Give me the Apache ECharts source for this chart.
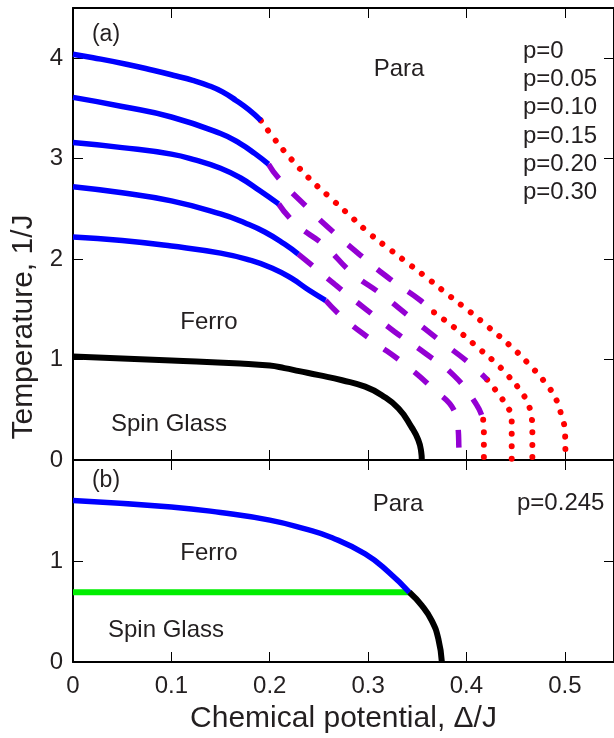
<!DOCTYPE html>
<html>
<head>
<meta charset="utf-8">
<script src="https://cdn.jsdelivr.net/npm/echarts@6/dist/echarts.min.js"></script>
<style>
html, body { margin: 0; padding: 0; background: #fff; }
#chart { width: 614px; height: 738px; }
</style>
</head>
<body>
<div id="chart"></div>
<script>
// panel (a): [Δ/J, T] for each p, split by line style
const p000Solid = [[0, 4.04], [0.0205, 4.005], [0.0543, 3.94], [0.0813, 3.88], [0.105, 3.823], [0.1218, 3.78], [0.1387, 3.724],
  [0.152, 3.665], [0.1657, 3.58], [0.179, 3.485], [0.191, 3.38]]
const p000Dotted = [[0.191, 3.38], [0.2045, 3.20], [0.2224, 2.99], [0.2426, 2.78], [0.2628, 2.60], [0.283, 2.42], [0.3033, 2.24],
  [0.323, 2.09], [0.343, 1.94], [0.363, 1.79], [0.3826, 1.635], [0.403, 1.48], [0.4228, 1.32], [0.443, 1.15], [0.4629, 0.96],
  [0.4828, 0.735], [0.492, 0.586], [0.4966, 0.44], [0.50, 0.30], [0.5005, 0.15], [0.5007, 0]]

const p005Solid = [[0, 3.61], [0.05, 3.52], [0.1, 3.415], [0.15, 3.25], [0.17, 3.15], [0.185, 3.05], [0.1987, 2.946]]
const p005Dashed = [[0.1987, 2.946], [0.2095, 2.80], [0.2365, 2.53], [0.2635, 2.28], [0.292, 2.04], [0.3225, 1.80], [0.353, 1.59], [0.367, 1.47]]
const p005Dotted = [[0.367, 1.47], [0.3826, 1.357], [0.3975, 1.24], [0.412, 1.115], [0.427, 0.99], [0.4423, 0.84], [0.457, 0.66],
  [0.463, 0.55], [0.4663, 0.43], [0.467, 0.30], [0.467, 0]]

const p010Solid = [[0, 3.16], [0.05, 3.11], [0.1, 3.045], [0.125, 2.985], [0.15, 2.905], [0.17, 2.81], [0.19, 2.68], [0.209, 2.55]]
const p010Dashed = [[0.209, 2.55], [0.2264, 2.35], [0.255, 2.14], [0.284, 1.86], [0.3135, 1.65], [0.343, 1.42], [0.3715, 1.20], [0.4035, 0.96], [0.421, 0.80]]
const p010Dotted = [[0.421, 0.80], [0.428, 0.715], [0.435, 0.626], [0.4423, 0.52], [0.446, 0.43], [0.446, 0]]

const p015Solid = [[0, 2.72], [0.05, 2.66], [0.1, 2.58], [0.15, 2.45], [0.175, 2.36], [0.195, 2.27], [0.215, 2.15], [0.229, 2.05]]
const p015Dashed = [[0.229, 2.05], [0.2415, 1.95], [0.2659, 1.75], [0.2979, 1.50], [0.3266, 1.28], [0.357, 1.07], [0.3874, 0.84], [0.4103, 0.55], [0.417, 0.40]]
const p015Dotted = [[0.417, 0.40], [0.4177, 0.30], [0.4177, 0]]

const p020Solid = [[0, 2.22], [0.05, 2.185], [0.1, 2.13], [0.15, 2.06], [0.18, 1.99], [0.2027, 1.91], [0.222, 1.81], [0.24, 1.69], [0.2567, 1.59]]
const p020Dashed = [[0.2567, 1.59], [0.2753, 1.41], [0.3057, 1.18], [0.335, 0.97], [0.3637, 0.73], [0.389, 0.46], [0.3915, 0.32], [0.3924, 0.10], [0.393, 0]]

const p030Solid = [[0, 1.03], [0.1, 0.99], [0.17, 0.96], [0.2, 0.94], [0.215, 0.915], [0.23, 0.885], [0.25, 0.845], [0.2736, 0.794],
  [0.297, 0.73], [0.314, 0.645], [0.331, 0.513], [0.344, 0.33], [0.351, 0.2], [0.354, 0.08], [0.3546, 0]]

// panel (b): p = 0.245
const bFerroPara = [[0, 1.60], [0.1, 1.535], [0.15, 1.48], [0.2, 1.405], [0.235, 1.32], [0.2635, 1.23], [0.297, 1.07], [0.3209, 0.89], [0.342, 0.69]]
const bGlassPara = [[0.342, 0.69], [0.3545, 0.56], [0.3647, 0.41], [0.3714, 0.23], [0.375, 0]]
const bGlassFerro = [[0, 0.69], [0.342, 0.69]]

const xTicks = [0, 0.1, 0.2, 0.3, 0.4, 0.5]
const tTicksA = [0, 1, 2, 3, 4]
const tTicksB = [0, 1]
const pLabels = ['p=0', 'p=0.05', 'p=0.10', 'p=0.15', 'p=0.20', 'p=0.30']

const textColor = '#231f20'
const fontFamily = '"Liberation Sans", Arial, Helvetica, sans-serif'
const BLUE = '#0000ff', RED = '#ff0000', PURPLE = '#9400d3', BLACK = '#000000', GREEN = '#00ee00'
const DOTS = [0.01, 12.4]
const DASHES = [18, 20]

function near(list, v) {
  return list.some(t => Math.abs(t - v) < 1e-6)
}

function xAx(grid, pos, showLabel) {
  return {
    type: 'value', gridIndex: grid, position: pos, min: 0, max: 0.55, interval: 0.1,
    axisLine: { onZero: false, lineStyle: { color: '#000', width: 2 } },
    axisTick: { inside: true, length: 10, lineStyle: { color: '#000', width: 1 } },
    axisLabel: {
      show: showLabel, margin: 12, color: textColor, fontSize: 24, fontFamily: fontFamily, showMaxLabel: false,
      formatter: v => near(xTicks, v) ? String(Math.round(v * 10) / 10) : ''
    },
    splitLine: { show: false }
  }
}

function yAx(grid, pos, max, ticks, showLabel) {
  return {
    type: 'value', gridIndex: grid, position: pos, min: 0, max: max, interval: 1,
    axisLine: { onZero: false, lineStyle: { color: '#000', width: 2 } },
    axisTick: { inside: true, length: 10, lineStyle: { color: '#000', width: 1 } },
    axisLabel: {
      show: showLabel, margin: 10, color: textColor, fontSize: 24, fontFamily: fontFamily, showMaxLabel: false,
      formatter: v => near(ticks, v) ? String(v) : ''
    },
    splitLine: { show: false }
  }
}

function curve(data, color, width, dash, panel, cap) {
  return {
    type: 'line', data: data, xAxisIndex: panel * 2, yAxisIndex: panel * 2,
    showSymbol: false, symbol: 'none', smooth: 0.5, silent: true,
    lineStyle: { color: color, width: width, type: dash || 'solid', cap: cap || 'butt' }
  }
}

function label(text, x, y, size, align, rotation) {
  return {
    type: 'text', x: x, y: y, rotation: rotation || 0, silent: true,
    style: {
      text: text, fill: textColor, font: size + 'px ' + fontFamily,
      textAlign: align || 'center', textVerticalAlign: 'middle',
      align: align || 'center', verticalAlign: 'middle'
    }
  }
}

const xName = 'Chemical potential, Δ/J'
const yName = 'Temperature, 1/J'

const chart = echarts.init(document.getElementById('chart'))

const xAxes = [xAx(0, 'bottom', false), xAx(0, 'top', false), xAx(1, 'bottom', true), xAx(1, 'top', false)]
xAxes[2].name = xName
xAxes[2].nameLocation = 'middle'
xAxes[2].nameGap = 42
xAxes[2].nameTextStyle = { fontSize: 30, color: textColor, fontFamily: fontFamily }

const graphics = [
  label('(a)', 106, 35, 23),
  label('Para', 399, 69, 24),
  label('Ferro', 209, 322, 24),
  label('Spin Glass', 169, 424, 24),
  label('(b)', 106, 481, 23),
  label('Para', 398, 504, 24),
  label('p=0.245', 517, 503, 24, 'left'),
  label('Ferro', 209, 553, 24),
  label('Spin Glass', 166, 630, 24),
  label(yName, 24, 327, 30, 'center', Math.PI / 2)
]
pLabels.forEach((t, i) => graphics.push(label(t, 523, 51 + i * 28.3, 24, 'left')))

chart.setOption({
  animation: false,
  backgroundColor: '#fff',
  grid: [
    { left: 73, top: 8, width: 543, height: 452 },
    { left: 73, top: 460, width: 543, height: 202 }
  ],
  xAxis: xAxes,
  yAxis: [
    yAx(0, 'left', 4.5, tTicksA, true), yAx(0, 'right', 4.5, tTicksA, false),
    yAx(1, 'left', 2, tTicksB, true), yAx(1, 'right', 2, tTicksB, false)
  ],
  graphic: graphics,
  series: [
    curve(p000Dotted, RED, 6, DOTS, 0, 'round'),
    curve(p005Dotted, RED, 6, DOTS, 0, 'round'),
    curve(p010Dotted, RED, 6, DOTS, 0, 'round'),
    curve(p015Dotted, RED, 6, DOTS, 0, 'round'),
    curve(p005Dashed, PURPLE, 5.5, DASHES, 0),
    curve(p010Dashed, PURPLE, 5.5, DASHES, 0),
    curve(p015Dashed, PURPLE, 5.5, DASHES, 0),
    curve(p020Dashed, PURPLE, 5.5, DASHES, 0),
    curve(p000Solid, BLUE, 5.5, null, 0),
    curve(p005Solid, BLUE, 5.5, null, 0),
    curve(p010Solid, BLUE, 5.5, null, 0),
    curve(p015Solid, BLUE, 5.5, null, 0),
    curve(p020Solid, BLUE, 5.5, null, 0),
    curve(p030Solid, BLACK, 6, null, 0),
    curve(bGlassFerro, GREEN, 6, null, 1),
    curve(bFerroPara, BLUE, 5.5, null, 1),
    curve(bGlassPara, BLACK, 6, null, 1)
  ]
})
</script>
</body>
</html>
